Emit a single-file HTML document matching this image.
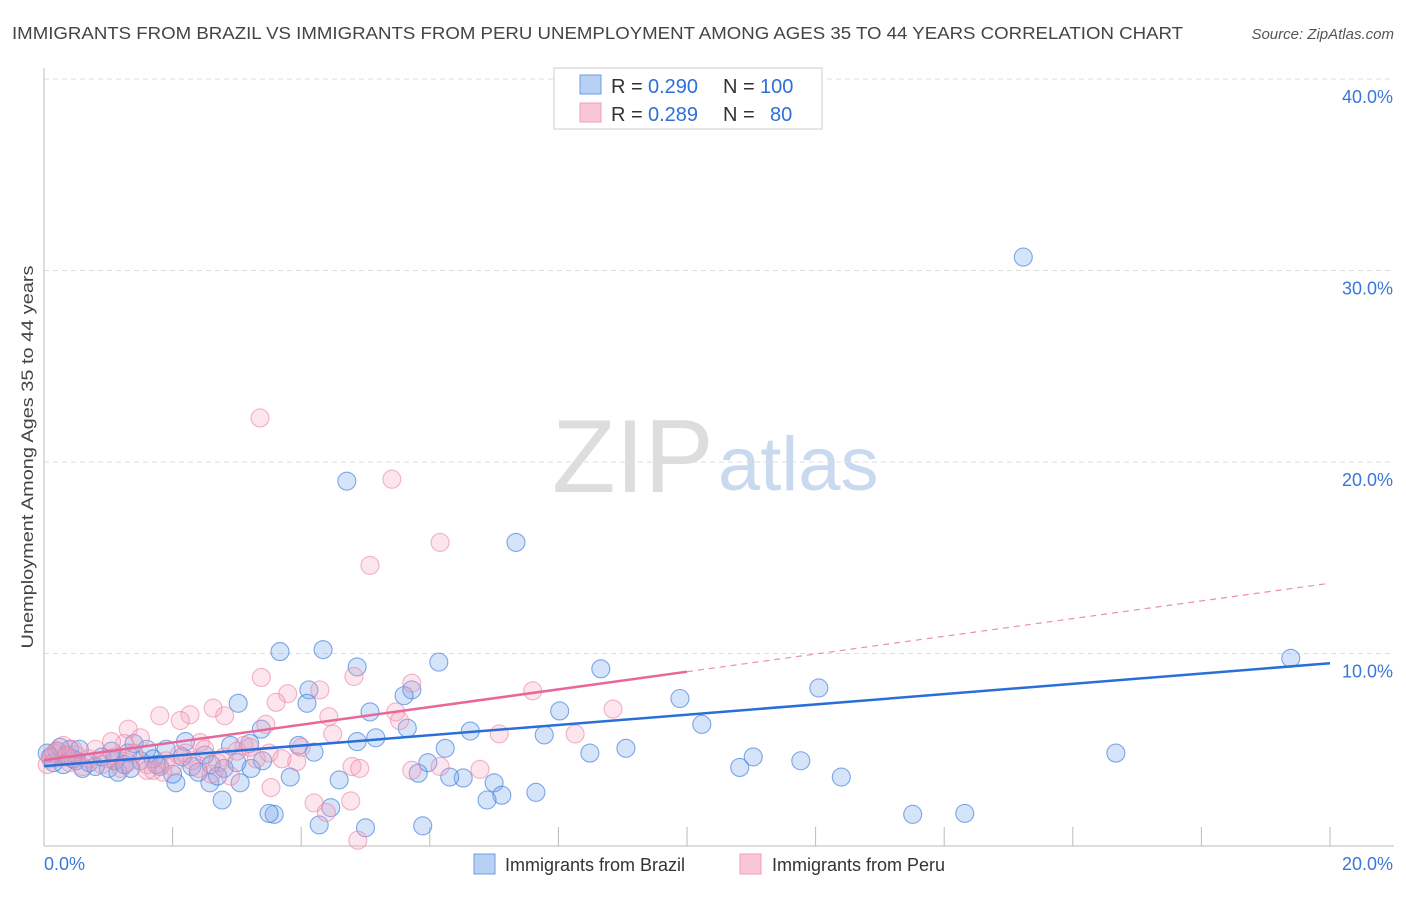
<!DOCTYPE html>
<html><head><meta charset="utf-8"><style>
body{margin:0;background:#fff;font-family:"Liberation Sans",sans-serif;}
svg text{font-family:"Liberation Sans",sans-serif;}
</style></head><body>
<svg id="chart" width="1406" height="892" viewBox="0 0 1406 892" xmlns="http://www.w3.org/2000/svg">
<text x="12" y="39" font-size="17.5" fill="#444" textLength="1171" lengthAdjust="spacingAndGlyphs">IMMIGRANTS FROM BRAZIL VS IMMIGRANTS FROM PERU UNEMPLOYMENT AMONG AGES 35 TO 44 YEARS CORRELATION CHART</text>
<text x="1394" y="39" font-size="15" fill="#555" text-anchor="end" font-style="italic">Source: ZipAtlas.com</text>
<g>
<text x="552" y="492" font-size="104" fill="#ddd" font-family="Liberation Serif,serif">ZIP</text>
<text x="718" y="490" font-size="76" fill="#c9d9ef">atlas</text>
</g>
<g id="grid"></g>
<g id="axes"></g>
<g id="trends"></g>
<g id="points"></g>
<text transform="translate(33,457) rotate(-90)" font-size="17" fill="#444" text-anchor="middle" textLength="383" lengthAdjust="spacingAndGlyphs">Unemployment Among Ages 35 to 44 years</text>
<g>
<rect x="554" y="68" width="268" height="61" fill="#fff" stroke="#ccc"/>
<rect x="580" y="75" width="21" height="19" fill="#b8d0f4" stroke="#6e9de0"/>
<rect x="580" y="103" width="21" height="19" fill="#f9c6d6" stroke="#f0a0b8"/>
<text x="611" y="93" font-size="20" fill="#333">R =</text>
<text x="648" y="93" font-size="20" fill="#2f6fd6">0.290</text>
<text x="723" y="93" font-size="20" fill="#333">N =</text>
<text x="760" y="93" font-size="20" fill="#2f6fd6">100</text>
<text x="611" y="121" font-size="20" fill="#333">R =</text>
<text x="648" y="121" font-size="20" fill="#2f6fd6">0.289</text>
<text x="723" y="121" font-size="20" fill="#333">N =</text>
<text x="770" y="121" font-size="20" fill="#2f6fd6">80</text>
</g>
<g>
<rect x="474" y="854" width="21" height="20" fill="#b8d0f4" stroke="#6e9de0"/>
<text x="505" y="871" font-size="18" fill="#333">Immigrants from Brazil</text>
<rect x="740" y="854" width="21" height="20" fill="#f9c6d6" stroke="#f0a0b8"/>
<text x="772" y="871" font-size="18" fill="#333">Immigrants from Peru</text>
</g>
</svg>
<script>
const yTicks=[10,20,30,40];
const yTickLabels=["10.0%","20.0%","30.0%","40.0%"];
const xTicks=[2,4,6,8,10,12,14,16,18,20];
const xEndLabels=["0.0%","20.0%"];
const brazilX=[15.23,4.71,7.34,19.39,3.67,4.34,6.14,8.66,4.87,12.05,9.89,5.72,5.6,4.12,3.02,4.09,8.02,5.07,10.23,5.65,3.38,6.63,7.78,5.16,4.87,16.67,9.05,8.49,6.24,3.96,4.2,11.03,11.77,10.82,5.82,5.97,6.52,6.31,7.0,4.59,3.83,12.4,7.65,7.12,6.89,2.77,3.58,3.5,13.51,14.32,4.46,4.28,5.0,5.89,2.58,2.05,3.05,3.22,0.1,0.2,0.3,0.4,0.5,0.6,0.7,0.8,0.9,1.0,1.1,1.15,1.3,1.4,1.5,1.6,1.7,1.8,1.9,2.0,2.2,2.3,2.4,2.5,2.6,2.8,0.15,0.35,0.25,1.25,3.0,3.2,3.4,0.55,1.05,1.75,2.15,2.7,0.45,0.05,1.35,2.9];
const brazilY=[30.7,19.0,15.8,9.75,10.1,10.2,9.55,9.2,9.3,8.2,7.65,8.1,7.8,8.1,7.4,7.4,7.0,6.95,6.3,6.1,6.05,5.95,5.75,5.6,5.4,4.8,5.05,4.8,5.05,5.2,4.85,4.6,4.4,4.05,3.75,4.3,3.5,3.55,3.25,3.4,3.55,3.55,2.75,2.6,2.35,2.35,1.6,1.65,1.6,1.65,1.95,1.05,0.9,1.0,3.25,3.25,3.25,4.0,4.6,4.9,4.2,5.0,4.4,4.0,4.3,4.1,4.6,4.0,4.4,3.8,4.8,5.3,4.4,5.0,4.5,4.1,5.0,3.7,5.4,4.1,3.8,4.7,4.2,4.0,4.3,4.7,5.1,4.2,4.3,5.3,4.4,5.0,4.9,4.2,4.6,3.6,4.5,4.8,4.0,5.2];
const peruX=[3.36,5.41,6.16,5.07,5.72,7.6,4.29,3.38,4.82,3.79,3.61,4.43,8.85,5.47,5.53,3.45,2.63,2.81,2.27,2.12,1.8,1.31,4.49,7.08,8.26,6.16,4.79,4.91,6.78,5.72,3.53,4.77,4.2,4.39,4.88,3.93,3.11,2.43,0.1,0.2,0.3,0.4,0.5,0.7,0.8,0.9,1.1,1.2,1.4,1.5,1.6,1.7,1.9,2.0,2.2,2.4,2.6,2.8,3.0,3.3,0.05,0.6,1.0,1.3,2.1,1.25,2.5,3.2,0.35,1.85,2.3,2.9,3.5,1.05,0.15,2.7,3.7,4.0,1.6,0.45];
const peruY=[22.3,19.1,15.8,14.6,8.45,8.05,8.1,8.75,8.8,7.9,7.45,6.7,7.1,6.95,6.5,6.3,7.15,6.75,6.8,6.5,6.75,6.05,5.8,5.8,5.8,4.1,4.1,4.0,3.95,3.9,3.0,2.3,2.2,1.7,0.25,4.35,5.2,5.35,4.5,4.9,5.2,4.3,4.7,4.5,5.0,4.2,4.6,4.0,4.8,5.6,4.2,3.9,4.4,4.1,4.8,4.0,3.7,4.6,4.9,4.5,4.2,4.1,4.5,4.3,4.7,5.3,5.0,5.1,4.6,3.8,4.4,3.6,4.8,5.4,4.8,4.3,4.5,5.1,3.9,5.0];
const brazilTrend=[4.12,9.49];
const peruTrend=[4.43,13.67];
const peruSolidEnd=10;

const NS="http://www.w3.org/2000/svg";
const X0=44,X1=1330,Y0=845,Y40=79;
function xs(v){return X0+(X1-X0)*v/20;}
function ys(v){return Y0-(Y0-Y40)*v/40;}
function mk(tag,attrs,parent){const e=document.createElementNS(NS,tag);for(const k in attrs)e.setAttribute(k,attrs[k]);parent.appendChild(e);return e;}
const grid=document.getElementById('grid'),axes=document.getElementById('axes'),tr=document.getElementById('trends'),pts=document.getElementById('points');
yTicks.forEach((t,i)=>{
 const l=mk('line',{x1:X0,x2:1394,y1:ys(t),y2:ys(t),stroke:'#ddd','stroke-dasharray':'5,4'},grid);
 
 
 const tx=mk('text',{x:1393,y:ys(t)+24,'font-size':18,fill:'#3a78d8','text-anchor':'end'},grid);
 tx.textContent=yTickLabels[i];
 
 
});
const la=mk('line',{x1:X0,x2:X0,y1:68,y2:846,stroke:'#bbb'},axes);


const lb=mk('line',{x1:X0,x2:1394,y1:846,y2:846,stroke:'#bbb'},axes);


xTicks.forEach(t=>{
 const l=mk('line',{x1:xs(t),x2:xs(t),y1:827,y2:846,stroke:'#bbb'},axes);
 
 
});
const t0=mk('text',{x:44,y:870,'font-size':18,fill:'#3a78d8'},axes);t0.textContent=xEndLabels[0];


const t1=mk('text',{x:1393,y:870,'font-size':18,fill:'#3a78d8','text-anchor':'end'},axes);t1.textContent=xEndLabels[1];


function dot(x,y,fill,stroke,name){const c=mk('circle',{cx:xs(x),cy:ys(y),r:9,fill:fill,stroke:stroke,'stroke-width':1.1},pts);
 
 }
brazilX.forEach((x,i)=>dot(x,brazilY[i],'rgba(120,165,235,0.3)','rgba(60,125,220,0.65)','brazil-point'));
peruX.forEach((x,i)=>dot(x,peruY[i],'rgba(245,160,190,0.28)','rgba(235,130,165,0.6)','peru-point'));
function ty(tr_,x){return tr_[0]+(tr_[1]-tr_[0])*x/20;}
const bl=mk('line',{x1:xs(0),y1:ys(ty(brazilTrend,0)),x2:xs(20),y2:ys(ty(brazilTrend,20)),stroke:'#2a6fd8','stroke-width':2.5},tr);


const pl=mk('line',{x1:xs(0),y1:ys(ty(peruTrend,0)),x2:xs(peruSolidEnd),y2:ys(ty(peruTrend,peruSolidEnd)),stroke:'#e8669a','stroke-width':2.5},tr);


const pd=mk('line',{x1:xs(peruSolidEnd),y1:ys(ty(peruTrend,peruSolidEnd)),x2:xs(20),y2:ys(ty(peruTrend,20)),stroke:'#eb8fb0','stroke-width':1.2,'stroke-dasharray':'6,5'},tr);


document.getElementById('chart').appendChild(tr);
</script>
</body></html>
